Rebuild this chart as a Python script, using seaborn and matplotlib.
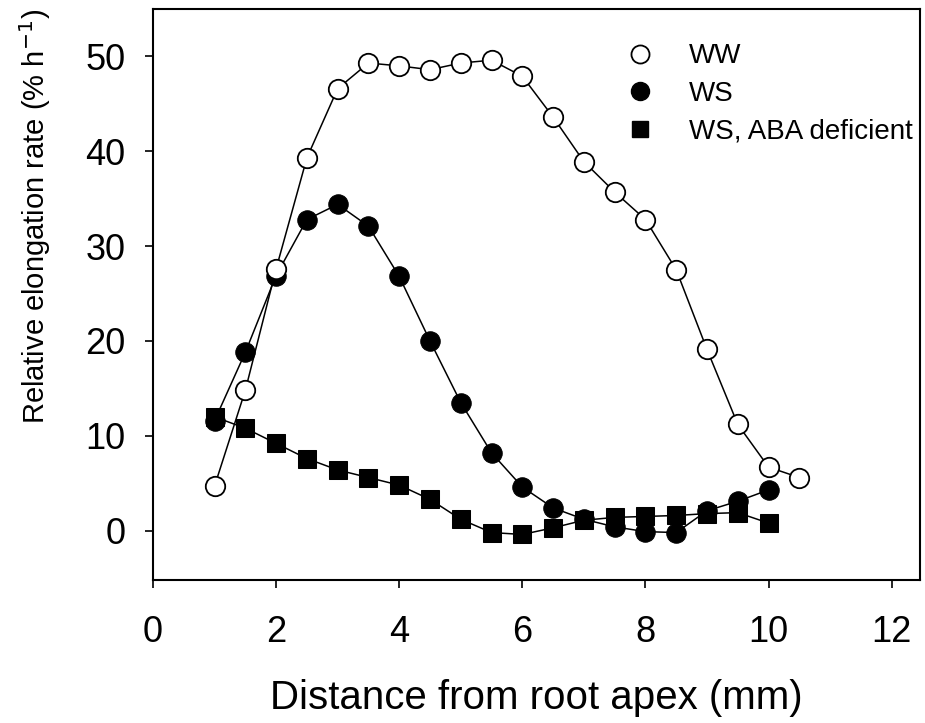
import numpy as np
import pandas as pd
import matplotlib
matplotlib.use("Agg")
import matplotlib.pyplot as plt
from matplotlib.lines import Line2D
import seaborn as sns

# distances along the root (mm)
x_ww = [1, 1.5, 2, 2.5, 3, 3.5, 4, 4.5, 5, 5.5, 6, 6.5, 7, 7.5, 8, 8.5, 9, 9.5, 10, 10.5]
y_ww = [4.7, 14.8, 27.6, 39.3, 46.6, 49.3, 49.0, 48.6, 49.3, 49.6, 47.9, 43.6, 38.9, 35.7, 32.8, 27.5, 19.1, 11.2, 6.7, 5.6]

x_ws = [1, 1.5, 2, 2.5, 3, 3.5, 4, 4.5, 5, 5.5, 6, 6.5, 7, 7.5, 8, 8.5, 9, 9.5, 10]
y_ws = [11.6, 18.8, 26.9, 32.8, 34.4, 32.1, 26.8, 20.0, 13.5, 8.2, 4.6, 2.4, 1.2, 0.4, -0.1, -0.2, 2.1, 3.1, 4.3]

x_aba = [1, 1.5, 2, 2.5, 3, 3.5, 4, 4.5, 5, 5.5, 6, 6.5, 7, 7.5, 8, 8.5, 9, 9.5, 10]
y_aba = [12.0, 10.8, 9.2, 7.6, 6.4, 5.6, 4.8, 3.3, 1.2, -0.2, -0.4, 0.3, 1.1, 1.4, 1.5, 1.6, 1.8, 1.9, 0.8]

labels = ["WW", "WS", "WS, ABA deficient"]

sns.set_style("ticks")
plt.rcParams["font.family"] = ["Liberation Sans", "DejaVu Sans"]
plt.rcParams["text.color"] = "black"
plt.rcParams["axes.labelcolor"] = "black"

fig = plt.figure(figsize=(9.25, 7.23), dpi=100)
ax = fig.add_axes([0.1654, 0.1978, 0.8292, 0.7898])

# draw ABA first so circles sit on top
sns.lineplot(x=x_aba, y=y_aba, ax=ax, color="black", lw=1.1, marker="s",
             markersize=13.5, markerfacecolor="black", markeredgecolor="black")
sns.lineplot(x=x_ws, y=y_ws, ax=ax, color="black", lw=1.1, marker="o",
             markersize=14, markerfacecolor="black", markeredgecolor="black")
sns.lineplot(x=x_ww, y=y_ww, ax=ax, color="black", lw=1.1, marker="o",
             markersize=14, markerfacecolor="white", markeredgecolor="black",
             markeredgewidth=1.3)

ax.set_xlim(0, 12.46)
ax.set_ylim(-5.2, 55)
ax.set_xticks([0, 2, 4, 6, 8, 10, 12])
ax.set_yticks([0, 10, 20, 30, 40, 50])
ax.tick_params(axis="both", labelsize=26, length=6, width=1.2, direction="out",
               color="black", labelcolor="black")
ax.tick_params(axis="x", pad=19)
ax.tick_params(axis="y", pad=14)
for s in ax.spines.values():
    s.set_linewidth(1.5)
    s.set_color("black")

ax.set_xlabel("Distance from root apex (mm)", fontsize=29, labelpad=21)
ax.set_ylabel("Relative elongation rate (% h$^{-1}$)", fontsize=21)
ax.yaxis.set_label_coords(-0.130, 0.637)

handles = [
    Line2D([], [], ls="none", marker="o", ms=13, mfc="white", mec="black", mew=1.3),
    Line2D([], [], ls="none", marker="o", ms=13, mfc="black", mec="black"),
    Line2D([], [], ls="none", marker="s", ms=12, mfc="black", mec="black"),
]
ax.legend(handles, labels, loc="upper right", bbox_to_anchor=(0.99, 0.94),
          frameon=False, fontsize=20, handlelength=1.5, handletextpad=1.0,
          labelspacing=0.42, borderpad=0, borderaxespad=0)

fig.savefig("out.png", dpi=100)
